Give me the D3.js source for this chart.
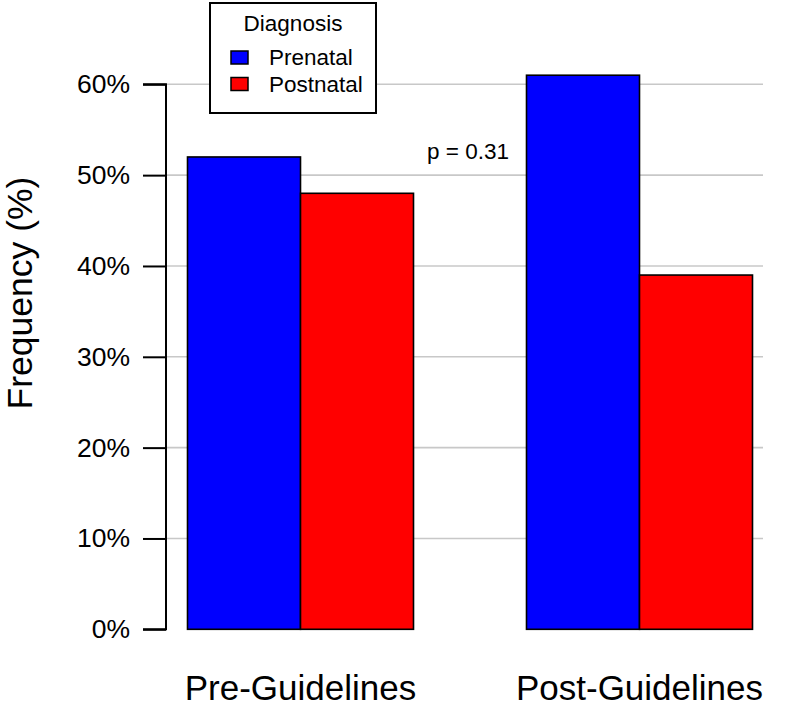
<!DOCTYPE html>
<html>
<head>
<meta charset="utf-8">
<script src="https://cdn.jsdelivr.net/npm/d3@7"></script>
<style>
  html, body { margin: 0; padding: 0; background: #fff; }
  svg { display: block; font-family: "Liberation Sans", Arial, Helvetica, sans-serif; }
</style>
</head>
<body>
<svg id="chart" width="800" height="710"></svg>
<script>
// ---- data ----
const groups = ["Pre-Guidelines", "Post-Guidelines"];
const seriesNames = ["Prenatal", "Postnatal"];
const prenatal = [52, 61];
const postnatal = [48, 39];
const yTicks = [0, 10, 20, 30, 40, 50, 60];
const seriesColors = ["#0000FF", "#FF0000"];
const legendTitle = "Diagnosis";
const yTitle = "Frequency (%)";
const pLabel = "p = 0.31";

const values = [prenatal, postnatal];

const svg = d3.select("#chart");

// scales
const y = d3.scaleLinear().domain([0, 60]).range([629.3, 84.3]);
// bar units in the R-barplot style: group g, series s -> unit 1 + g*3 + s
const x = d3.scaleLinear().domain([1, 6]).range([187.5, 752.5]);
const axisX = 166;
const gridRight = 763;

// gridlines
svg.append("g").selectAll("line")
  .data(yTicks.filter(d => d > 0))
  .join("line")
  .attr("x1", axisX + 1).attr("x2", gridRight)
  .attr("y1", d => y(d)).attr("y2", d => y(d))
  .attr("stroke", "#c8c8c8").attr("stroke-width", 1.6);

// bars
const barData = [];
groups.forEach((g, gi) => {
  seriesNames.forEach((s, si) => {
    barData.push({ g: gi, s: si, v: values[si][gi] });
  });
});
svg.append("g").selectAll("rect")
  .data(barData)
  .join("rect")
  .attr("x", d => x(1 + d.g * 3 + d.s))
  .attr("width", d => x(2 + d.g * 3 + d.s) - x(1 + d.g * 3 + d.s))
  .attr("y", d => y(d.v))
  .attr("height", d => y(0) - y(d.v))
  .attr("fill", d => seriesColors[d.s])
  .attr("stroke", "#000").attr("stroke-width", 1.6);

// y axis
const yAxis = d3.axisLeft(y).tickValues(yTicks).tickSize(23).tickPadding(13)
  .tickFormat(d => d + "%");
const ax = svg.append("g").attr("transform", `translate(${axisX},0)`).call(yAxis);
ax.select(".domain").attr("d", `M-23,${y(60)}H0V${y(0)}H-23`).attr("stroke", "#000").attr("stroke-width", 2);
ax.selectAll(".tick line").attr("stroke", "#000").attr("stroke-width", 2);
ax.selectAll(".tick text")
  .attr("font-size", 26.5).attr("fill", "#000")
  .attr("font-family", "Liberation Sans, Arial, sans-serif");

// x labels
svg.append("g").selectAll("text")
  .data(groups)
  .join("text")
  .attr("x", (d, i) => x(2 + i * 3))
  .attr("y", 700)
  .attr("text-anchor", "middle")
  .attr("font-size", 35)
  .attr("fill", "#000")
  .text(d => d);

// y title
svg.append("text")
  .attr("transform", `translate(32,293) rotate(-90)`)
  .attr("text-anchor", "middle")
  .attr("font-size", 35.5)
  .attr("fill", "#000")
  .text(yTitle);

// p-value
svg.append("text")
  .attr("x", 468).attr("y", 158.5)
  .attr("text-anchor", "middle")
  .attr("font-size", 22.5)
  .attr("fill", "#000")
  .text(pLabel);

// legend
const lg = svg.append("g");
lg.append("rect")
  .attr("x", 210).attr("y", 3).attr("width", 166).attr("height", 110)
  .attr("fill", "#fff").attr("stroke", "#000").attr("stroke-width", 2);
lg.append("text")
  .attr("x", 293).attr("y", 31)
  .attr("text-anchor", "middle").attr("font-size", 22.5).attr("fill", "#000")
  .text(legendTitle);
seriesNames.forEach((s, i) => {
  lg.append("rect")
    .attr("x", 231).attr("y", 51 + i * 26.5).attr("width", 17).attr("height", 13)
    .attr("fill", seriesColors[i]).attr("stroke", "#000").attr("stroke-width", 1.5);
  lg.append("text")
    .attr("x", 269).attr("y", 65 + i * 26.5)
    .attr("font-size", 22.5).attr("fill", "#000")
    .text(s);
});
</script>
</body>
</html>
